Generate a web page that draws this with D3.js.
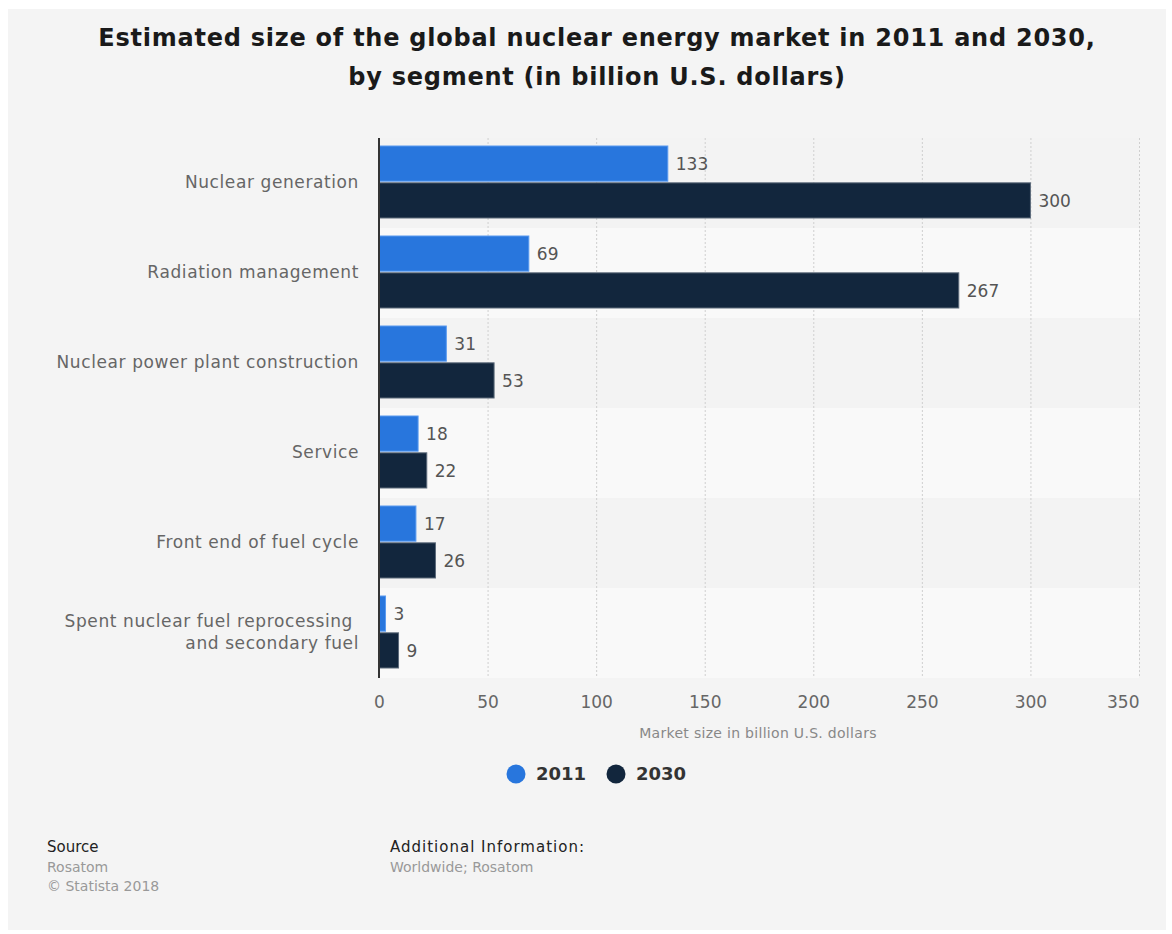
<!DOCTYPE html>
<html>
<head>
<meta charset="utf-8">
<script src="https://cdn.jsdelivr.net/npm/d3@7"></script>
<style>
  html, body { margin: 0; padding: 0; background: #ffffff; }
  svg { display: block; }
  text { font-family: "DejaVu Sans", sans-serif; white-space: pre; }
</style>
</head>
<body>
<svg id="chart" width="1172" height="934"></svg>
<script>
// Market segments and estimated sizes (billion U.S. dollars)
const categories = [
  ["Nuclear generation"],
  ["Radiation management"],
  ["Nuclear power plant construction"],
  ["Service"],
  ["Front end of fuel cycle"],
  ["Spent nuclear fuel reprocessing ", "and secondary fuel"]
];
const seriesNames = ["2011", "2030"];
const values2011 = [133, 69, 31, 18, 17, 3];
const values2030 = [300, 267, 53, 22, 26, 9];
const xTicks = [0, 50, 100, 150, 200, 250, 300, 350];
const colors = ["#2876dd", "#12263d"];
const strokeColors = ["#5a9af0", "#5c6a7a"];

const svg = d3.select("#chart");

// panel background
svg.append("rect").attr("x", 8).attr("y", 9).attr("width", 1158).attr("height", 921)
  .attr("fill", "#f4f4f4");

// title
const title = svg.append("text").attr("text-anchor", "middle")
  .attr("font-weight", "bold").attr("font-size", 24).attr("fill", "#1a1a1a")
  .attr("letter-spacing", 0.75);
title.append("tspan").attr("x", 597).attr("y", 46)
  .text("Estimated size of the global nuclear energy market in 2011 and 2030,");
title.append("tspan").attr("x", 597).attr("y", 85)
  .text("by segment (in billion U.S. dollars)");

const plot = { left: 379, right: 1139, top: 138, bottom: 678 };

const x = d3.scaleLinear().domain([0, 350]).range([plot.left, plot.right]);
const yBand = d3.scaleBand().domain(d3.range(categories.length))
  .range([plot.top, plot.bottom]).paddingInner(0).paddingOuter(0);
const ySub = d3.scaleBand().domain([0, 1])
  .range([8, yBand.bandwidth() - 10]).paddingInner(0.045);

// alternating row stripes
svg.append("g").selectAll("rect").data(d3.range(categories.length)).join("rect")
  .attr("x", plot.left).attr("width", plot.right - plot.left)
  .attr("y", i => yBand(i)).attr("height", yBand.bandwidth())
  .attr("fill", i => i % 2 === 1 ? "#f9f9f9" : "#f3f3f3");

// vertical dotted gridlines
svg.append("g").selectAll("line").data(xTicks.filter(t => t > 0)).join("line")
  .attr("x1", d => x(d) + 0.5).attr("x2", d => x(d) + 0.5)
  .attr("y1", plot.top).attr("y2", plot.bottom)
  .attr("stroke", "#cfcfcf").attr("stroke-width", 1).attr("stroke-dasharray", "2,2");

// bars
const seriesValues = [values2011, values2030];
seriesValues.forEach((vals, s) => {
  const g = svg.append("g");
  g.selectAll("rect").data(vals).join("rect")
    .attr("x", x(0))
    .attr("y", (d, i) => yBand(i) + ySub(s))
    .attr("width", d => x(d) - x(0))
    .attr("height", ySub.bandwidth())
    .attr("fill", colors[s])
    .attr("stroke", strokeColors[s]).attr("stroke-width", 1);
  g.selectAll("text").data(vals).join("text")
    .attr("x", d => x(d) + 8)
    .attr("y", (d, i) => yBand(i) + ySub(s) + ySub.bandwidth() / 2)
    .attr("dy", "0.36em")
    .attr("font-size", 17).attr("fill", "#555555")
    .text(d => d);
});

// zero axis line
svg.append("line").attr("x1", plot.left).attr("x2", plot.left)
  .attr("y1", plot.top).attr("y2", plot.bottom)
  .attr("stroke", "#333333").attr("stroke-width", 2);

// category labels
const catG = svg.append("g");
categories.forEach((lines, i) => {
  const cy = yBand(i) + yBand.bandwidth() / 2 - 1;
  const t = catG.append("text").attr("text-anchor", "end")
    .attr("font-size", 17).attr("fill", "#666666").attr("letter-spacing", 0.6);
  lines.forEach((ln, k) => {
    t.append("tspan").attr("x", 359)
      .attr("y", cy + (k - (lines.length - 1) / 2) * 22)
      .attr("dy", "0.36em").text(ln);
  });
});

// x axis tick labels
const xAxis = d3.axisBottom(x).tickValues(xTicks).tickSize(0).tickPadding(0);
const axG = svg.append("g").attr("transform", `translate(0, ${plot.bottom + 18})`).call(xAxis);
axG.select(".domain").remove();
axG.selectAll("text")
  .attr("font-family", "DejaVu Sans, sans-serif")
  .attr("font-size", 17).attr("fill", "#666666")
  .attr("dy", "0.71em")
  .attr("text-anchor", d => d === 350 ? "end" : "middle");

// axis title
svg.append("text").attr("x", 758).attr("y", 738).attr("text-anchor", "middle")
  .attr("font-size", 14).attr("fill", "#888888").attr("letter-spacing", 0.3)
  .text("Market size in billion U.S. dollars");

// legend
const legend = svg.append("g");
const legendX = [516, 616];
seriesNames.forEach((name, s) => {
  legend.append("circle").attr("cx", legendX[s]).attr("cy", 774).attr("r", 9.5)
    .attr("fill", colors[s]);
  legend.append("text").attr("x", legendX[s] + 20).attr("y", 774).attr("dy", "0.36em")
    .attr("font-size", 18).attr("font-weight", "bold").attr("fill", "#333333")
    .text(name);
});

// footer
const foot = svg.append("g");
foot.append("text").attr("x", 47).attr("y", 852).attr("font-size", 15).attr("fill", "#222222").text("Source");
foot.append("text").attr("x", 47).attr("y", 872).attr("font-size", 14).attr("fill", "#999999").text("Rosatom");
foot.append("text").attr("x", 47).attr("y", 891).attr("font-size", 14).attr("fill", "#999999").text("© Statista 2018");
foot.append("text").attr("x", 390).attr("y", 852).attr("font-size", 15).attr("fill", "#222222")
  .attr("letter-spacing", 1).text("Additional Information:");
foot.append("text").attr("x", 390).attr("y", 872).attr("font-size", 14).attr("fill", "#999999").text("Worldwide; Rosatom");
</script>
</body>
</html>
